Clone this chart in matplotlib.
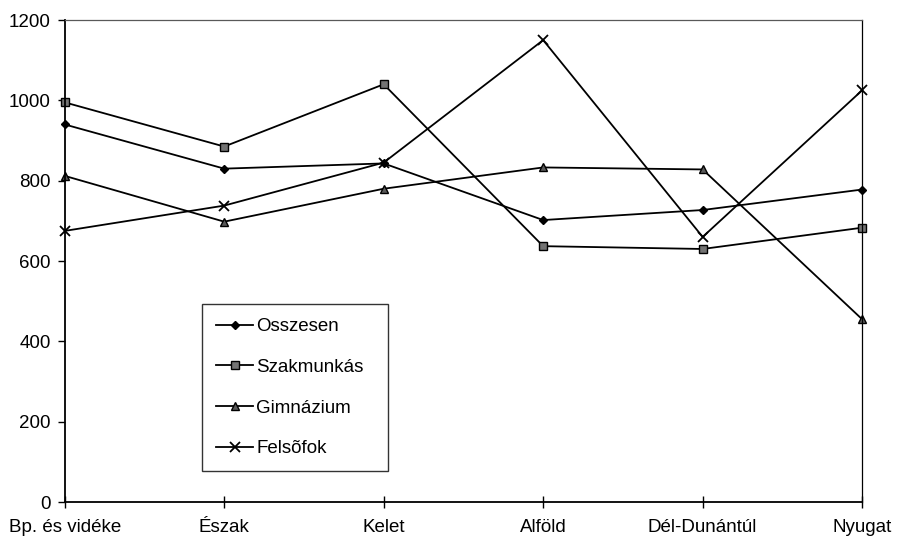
import matplotlib
matplotlib.use('Agg')
import matplotlib.pyplot as plt

plt.rcParams['font.family'] = ['Liberation Sans', 'DejaVu Sans']

regions = ['Bp. és vidéke', 'Észak', 'Kelet', 'Alföld', 'Dél-Dunántúl', 'Nyugat']
osszesen = [940, 830, 843, 702, 727, 778]
szakmunkas = [995, 885, 1040, 637, 630, 683]
gimnazium = [812, 698, 780, 833, 828, 455]
felsofok = [675, 738, 845, 1150, 660, 1025]

series = [
    ('Osszesen', osszesen, dict(marker='D', markersize=4.5, markerfacecolor='black')),
    ('Szakmunkás', szakmunkas, dict(marker='s', markersize=6, markerfacecolor='0.45')),
    ('Gimnázium', gimnazium, dict(marker='^', markersize=6, markerfacecolor='0.35')),
    ('Felsõfok', felsofok, dict(marker='x', markersize=7, markeredgewidth=1.3)),
]

fig = plt.figure(figsize=(8.99, 5.41), dpi=100)
ax = fig.add_axes([0.072, 0.072, 0.887, 0.891])

x = list(range(len(regions)))
for name, vals, style in series:
    ax.plot(x, vals, color='black', linewidth=1.3, markeredgecolor='black',
            label=name, clip_on=False, **style)

ax.set_xlim(0, len(regions) - 1)
ax.set_ylim(0, 1200)
ax.set_yticks(range(0, 1201, 200))
ax.set_xticks(x)
ax.set_xticklabels(regions)
ax.tick_params(axis='both', labelsize=13.5, colors='black')
ax.tick_params(axis='x', direction='inout', length=9, width=1, pad=8)
ax.tick_params(axis='y', direction='out', length=5, width=1, pad=5)

for side in ['left', 'bottom']:
    ax.spines[side].set_linewidth(1.3)
for side in ['top', 'right']:
    ax.spines[side].set_linewidth(0.9)
ax.spines['top'].set_color('0.35')

leg = ax.legend(loc='lower left', bbox_to_anchor=(0.172, 0.064, 0.233, 0.341),
                mode='expand', fontsize=13.5, frameon=True, fancybox=False,
                edgecolor='black', labelspacing=1.25, handlelength=2.0,
                handletextpad=0.15, borderpad=0.75, borderaxespad=0)
leg.get_frame().set_linewidth(1.0)

fig.savefig('out.png', dpi=100)
